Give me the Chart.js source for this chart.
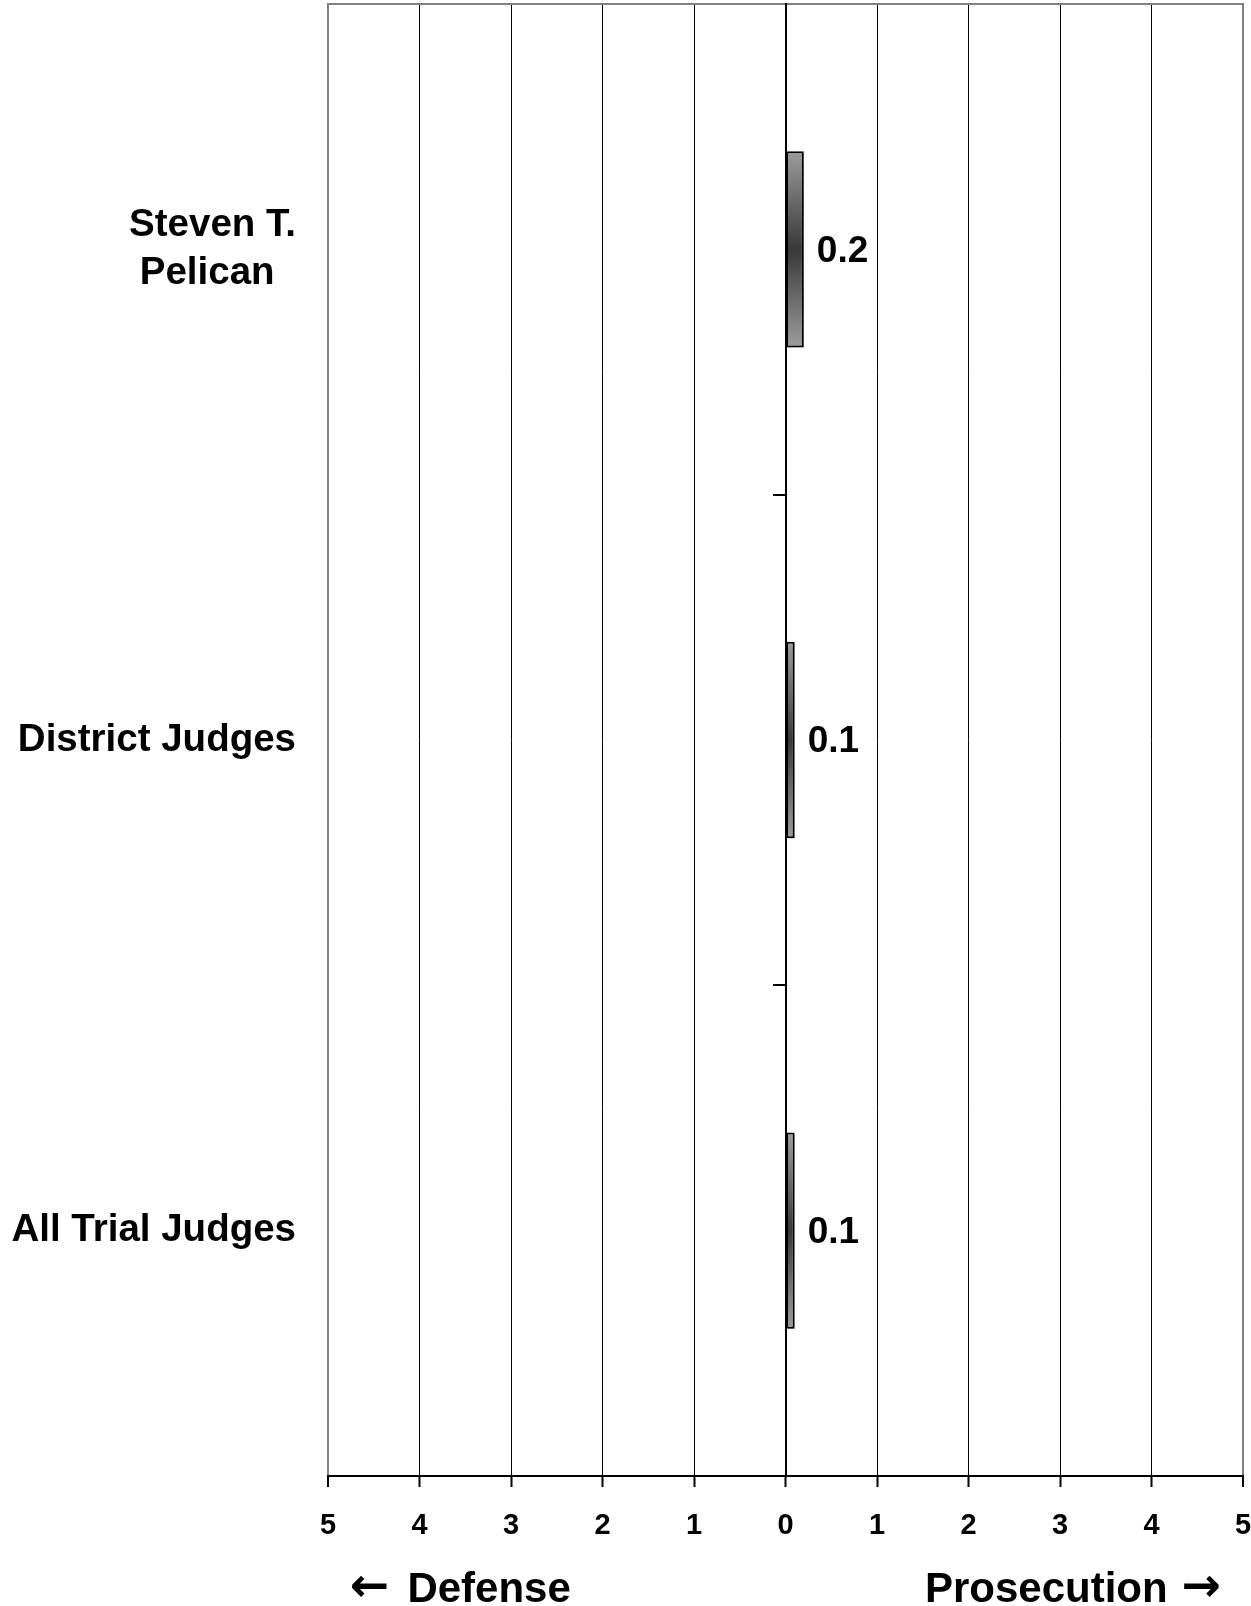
<!DOCTYPE html>
<html>
<head>
<meta charset="utf-8">
<title>Judge comparison</title>
<script src="https://cdn.jsdelivr.net/npm/chart.js@4.4.1/dist/chart.umd.min.js"></script>
<style>
  html, body { margin: 0; padding: 0; background: #fff; overflow: hidden; }
  canvas { display: block; }
</style>
</head>
<body>
<canvas id="judgeChart" width="1251" height="1640"></canvas>
<script>
// categories (the two spaces keep "Pelican" centred under "Steven T.")
const judges = [['Steven T.', 'Pelican\u00a0\u00a0'], 'District Judges', 'All Trial Judges'];
// average score of each group
const scores = [0.2, 0.1, 0.1];
// value axis runs from defense (left) to prosecution (right)
const scaleMin = -5;
const scaleMax = 5;
const leftWord = 'Defense';
const rightWord = 'Prosecution';

const FONT = "'Liberation Sans', Arial, sans-serif";
const ARROW_FONT = "'DejaVu Sans', sans-serif";
const canvas = document.getElementById('judgeChart');

// vertical gradient for each bar: light grey at the edges, dark in the middle
function barGradient(c) {
    const chart = c.chart;
    const yScale = chart.scales.y;
    if (!yScale || !chart.chartArea) return '#777';
    const center = yScale.getPixelForValue(c.dataIndex);
    const half = (yScale.height / judges.length) * 0.4 / 2;
    const g = chart.ctx.createLinearGradient(0, center - half, 0, center + half);
    g.addColorStop(0, '#9c9c9c');
    g.addColorStop(0.5, '#383838');
    g.addColorStop(1, '#9c9c9c');
    return g;
}

// small shadow under the bars and the value written right of each bar
const valueLabels = {
    id: 'valueLabels',
    beforeDatasetsDraw(chart) {
        const ctx = chart.ctx;
        ctx.save();
        ctx.shadowColor = 'rgba(0,0,0,0.35)';
        ctx.shadowOffsetX = 2;
        ctx.shadowOffsetY = 2;
        ctx.shadowBlur = 1;
    },
    afterDatasetsDraw(chart) {
        const ctx = chart.ctx;
        ctx.restore();
        const meta = chart.getDatasetMeta(0);
        ctx.save();
        ctx.font = 'bold 37px ' + FONT;
        ctx.fillStyle = '#000';
        ctx.textAlign = 'left';
        ctx.textBaseline = 'middle';
        meta.data.forEach((bar, i) => {
            ctx.fillText(scores[i].toFixed(1), bar.x + 13, bar.y + 2);
        });
        ctx.restore();
    }
};

// "<- Defense" under the left end, "Prosecution ->" under the right end
const sideLabels = {
    id: 'sideLabels',
    afterDraw(chart) {
        const ctx = chart.ctx;
        const area = chart.chartArea;
        const baseY = area.bottom + 126;
        ctx.save();
        ctx.fillStyle = '#000';
        ctx.textBaseline = 'alphabetic';

        // left side
        let x = area.left + 22;
        ctx.font = 'bold 47px ' + ARROW_FONT;
        ctx.textAlign = 'left';
        ctx.fillText('\u2190', x, baseY - 1);
        x += ctx.measureText('\u2190').width + 18;
        ctx.font = 'bold 42px ' + FONT;
        ctx.fillText(leftWord, x, baseY);

        // right side
        let r = area.right - 22;
        ctx.font = 'bold 47px ' + ARROW_FONT;
        ctx.textAlign = 'right';
        ctx.fillText('\u2192', r, baseY - 1);
        r -= ctx.measureText('\u2192').width + 14;
        ctx.font = 'bold 42px ' + FONT;
        ctx.fillText(rightWord, r, baseY);
        ctx.restore();
    }
};

const isEdge = c => c.tick && (c.tick.value === scaleMin || c.tick.value === scaleMax);

new Chart(canvas, {
    type: 'bar',
    data: {
        labels: judges,
        datasets: [{
            data: scores,
            backgroundColor: barGradient,
            borderColor: '#000',
            borderWidth: 2,
            borderSkipped: false,
            barPercentage: 0.8,
            categoryPercentage: 0.5
        }]
    },
    options: {
        indexAxis: 'y',
        responsive: false,
        animation: false,
        devicePixelRatio: 1,
        layout: { padding: 0 },
        plugins: {
            legend: { display: false },
            tooltip: { enabled: false }
        },
        scales: {
            x: {
                type: 'linear',
                axis: 'x',
                position: 'bottom',
                min: scaleMin,
                max: scaleMax,
                ticks: {
                    stepSize: 1,
                    autoSkip: false,
                    maxRotation: 0,
                    padding: 22,
                    color: '#000',
                    font: { family: FONT, size: 29, weight: 'bold' },
                    callback: v => Math.abs(v)
                },
                grid: {
                    color: c => isEdge(c) ? '#808080' : '#000',
                    lineWidth: c => isEdge(c) ? 2 : 1,
                    tickColor: '#000',
                    tickLength: 11,
                    tickWidth: 2
                },
                border: { color: '#000', width: 2 },
                afterFit: s => { s.height = 164; s.paddingLeft = 0; s.paddingRight = 8; }
            },
            // top edge of the plot
            xTop: {
                type: 'linear',
                axis: 'x',
                position: 'top',
                min: scaleMin,
                max: scaleMax,
                ticks: { display: false },
                grid: { display: false, drawTicks: false },
                border: { color: '#808080', width: 2 },
                afterFit: s => { s.height = 4; s.paddingLeft = 0; s.paddingRight = 8; }
            },
            y: {
                type: 'category',
                position: 'left',
                ticks: {
                    padding: 32,
                    color: '#000',
                    autoSkip: false,
                    font: { family: FONT, size: 38.5, weight: 'bold', lineHeight: 1.25 }
                },
                grid: { display: false, drawTicks: false },
                border: { display: false },
                afterFit: s => { s.width = 328; s.paddingTop = 0; s.paddingBottom = 0; }
            },
            // category axis sitting on the zero line, ticks between groups
            yZero: {
                type: 'category',
                axis: 'y',
                position: { x: 0 },
                offset: true,
                ticks: { display: false },
                grid: {
                    offset: true,
                    drawOnChartArea: false,
                    color: '#000',
                    lineWidth: 2,
                    tickLength: 12
                },
                border: { color: '#000', width: 2 }
            }
        }
    },
    plugins: [valueLabels, sideLabels]
});
</script>
</body>
</html>
